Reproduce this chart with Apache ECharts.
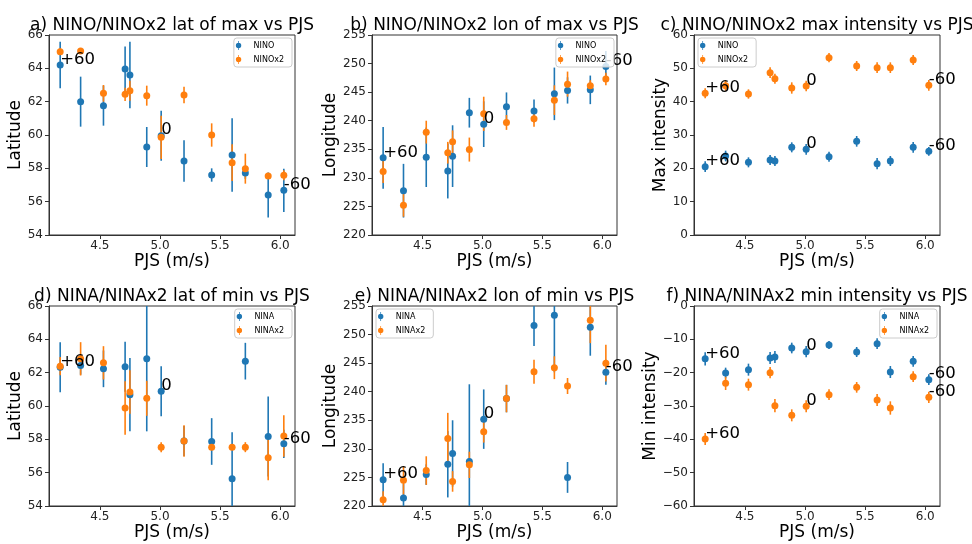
<!DOCTYPE html>
<html><head><meta charset="utf-8">
<script src="https://cdn.jsdelivr.net/npm/echarts@6/dist/echarts.min.js"></script>
<style>html,body{margin:0;padding:0;background:#fff}#c{width:972px;height:544px}</style>
</head><body><div id="c"></div>
<script>
// ---------------- data ----------------
const pjs = [4.17, 4.34, 4.53, 4.71, 4.75, 4.89, 5.01, 5.20, 5.43, 5.60, 5.71, 5.90, 6.03];
const xTicks = [4.5, 5.0, 5.5, 6.0];
const annotIdx = [0, 6, 12];
const annotText = ['+60', '0', '-60'];

// a) lat of max
const ninoLat     = [64.2, 62.0, 61.76, 63.96, 63.6, 59.28, 59.96, 58.44, 57.6, 58.8, 57.72, 56.4, 56.68];
const ninoLatErr  = [1.4, 1.5, 1.2, 1.35, 2.0, 1.2, 1.5, 1.25, 0.4, 2.2, 0.35, 1.35, 1.3];
const nino2Lat    = [65.0, 65.04, 62.5, 62.44, 62.66, 62.36, 59.86, 62.4, 60.0, 58.34, 57.98, 57.54, 57.58];
const nino2LatErr = [0.2, 0.1, 0.5, 0.4, 0.6, 0.6, 1.3, 0.5, 0.7, 1.1, 0.9, 0.15, 0.3];
// b) lon of max
const ninoLon     = [233.5, 227.75, 233.6, 231.2, 233.8, 241.4, 239.4, 242.45, 241.7, 244.7, 245.3, 245.4, 249.5];
const ninoLonErr  = [5.4, 4.7, 5.2, 4.8, 5.4, 2.6, 4.0, 2.5, 2.0, 4.6, 2.3, 2.5, 2.7];
const nino2Lon    = [231.1, 225.2, 238.0, 234.4, 236.3, 234.95, 241.2, 239.7, 240.35, 243.6, 246.4, 246.1, 247.3];
const nino2LonErr = [2.0, 2.0, 2.0, 1.9, 2.0, 2.1, 3.0, 1.3, 1.4, 2.6, 2.2, 1.0, 1.1];
// c) max intensity
const ninoMax     = [20.5, 23.7, 21.8, 22.5, 22.2, 26.3, 25.7, 23.5, 28.1, 21.4, 22.2, 26.3, 25.1];
const ninoMaxErr  = [1.6, 1.6, 1.5, 1.5, 1.5, 1.5, 1.6, 1.5, 1.6, 1.7, 1.5, 1.6, 1.3];
const nino2Max    = [42.5, 44.8, 42.3, 48.7, 46.9, 44.1, 44.7, 53.2, 50.7, 50.2, 50.2, 52.5, 44.9];
const nino2MaxErr = [1.5, 1.5, 1.4, 1.6, 1.5, 1.7, 1.6, 1.4, 1.5, 1.6, 1.6, 1.5, 1.6];
// d) lat of min
const ninaLat     = [62.33, 62.43, 62.23, 62.35, 60.68, 62.83, 60.88, 57.9, 57.87, 55.63, 62.69, 58.17, 57.73];
const ninaLatErr  = [1.5, 0.55, 1.1, 1.5, 2.2, 4.35, 1.5, 0.9, 1.4, 2.8, 1.1, 2.4, 0.85];
const nina2Lat    = [62.39, 62.83, 62.59, 59.88, 60.84, 60.46, 57.53, 57.9, 57.53, 57.53, 57.53, 56.9, 58.2];
const nina2LatErr = [0.55, 1.0, 1.0, 1.6, 1.3, 1.05, 0.3, 0.95, 0.15, 0.1, 0.3, 1.35, 1.25];
// e) lon of min
const ninaLon     = [224.6, 221.4, 225.5, 227.3, 229.2, 227.8, 235.2, 238.8, 251.6, 253.4, 225.0, 251.3, 243.4];
const ninaLonErr  = [2.9, 2.5, 1.8, 5.8, 5.8, 13.5, 5.2, 2.4, 3.6, 10.0, 2.7, 5.0, 2.2];
const nina2Lon    = [221.1, 224.5, 226.2, 231.8, 224.3, 227.2, 233.0, 238.8, 243.5, 244.2, 241.0, 252.5, 245.0];
const nina2LonErr = [1.5, 2.5, 2.5, 4.5, 1.8, 2.3, 1.9, 2.4, 2.1, 2.0, 1.4, 4.0, 3.2];
// f) min intensity
const ninaMin     = [-15.85, -20.1, -19.1, -15.6, -15.3, -12.6, -13.7, -11.7, -13.8, -11.3, -19.8, -16.6, -22.1];
const ninaMinErr  = [2.0, 1.6, 1.8, 1.8, 1.8, 1.6, 1.7, 1.2, 1.5, 1.6, 1.8, 1.6, 1.6];
const nina2Min    = [-39.9, -23.2, -23.6, -20.0, -29.9, -32.8, -30.1, -26.6, -24.4, -28.2, -30.6, -21.2, -27.4];
const nina2MinErr = [1.8, 2.0, 1.8, 1.7, 2.0, 1.8, 1.8, 1.6, 1.6, 1.8, 2.0, 1.6, 1.7];

// ---------------- layout / style ----------------
const FONT = 'DejaVu Sans';
const BLUE = '#1f77b4', ORANGE = '#ff7f0e';
const xr = Math.max(...pjs) - Math.min(...pjs);
const XMIN = Math.min(...pjs) - 0.05 * xr, XMAX = Math.max(...pjs) + 0.05 * xr;
const ERRICON = 'path://M2.6,0H3.4V10H2.6Z M6,5A3,3 0 1 1 0,5A3,3 0 1 1 6,5Z';

const panels = [
  {title:'a) NINO/NINOx2 lat of max vs PJS', yName:'Latitude', ymin:54, ymax:66, yint:2, names:['NINO','NINOx2'],
   s1:ninoLat, e1:ninoLatErr, s2:nino2Lat, e2:nino2LatErr, ann:[true,false],
   grid:{left:49, top:35, width:246, height:200}, leg:'right', nameGap:24},
  {title:'b) NINO/NINOx2 lon of max vs PJS', yName:'Longitude', ymin:220, ymax:255, yint:5, names:['NINO','NINOx2'],
   s1:ninoLon, e1:ninoLonErr, s2:nino2Lon, e2:nino2LonErr, ann:[true,false],
   grid:{left:372, top:35, width:245, height:200}, leg:'right', nameGap:30},
  {title:'c) NINO/NINOx2 max intensity vs PJS', yName:'Max intensity', ymin:0, ymax:60, yint:10, names:['NINO','NINOx2'],
   s1:ninoMax, e1:ninoMaxErr, s2:nino2Max, e2:nino2MaxErr, ann:[true,true],
   grid:{left:694, top:35, width:246, height:200}, leg:'left', nameGap:24},
  {title:'d) NINA/NINAx2 lat of min vs PJS', yName:'Latitude', ymin:54, ymax:66, yint:2, names:['NINA','NINAx2'],
   s1:ninaLat, e1:ninaLatErr, s2:nina2Lat, e2:nina2LatErr, ann:[true,false],
   grid:{left:49, top:306, width:246, height:200}, leg:'right', nameGap:24},
  {title:'e) NINA/NINAx2 lon of min vs PJS', yName:'Longitude', ymin:220, ymax:255, yint:5, names:['NINA','NINAx2'],
   s1:ninaLon, e1:ninaLonErr, s2:nina2Lon, e2:nina2LonErr, ann:[true,false],
   grid:{left:372, top:306, width:245, height:200}, leg:'left', nameGap:30},
  {title:'f) NINA/NINAx2 min intensity vs PJS', yName:'Min intensity', ymin:-60, ymax:0, yint:10, names:['NINA','NINAx2'],
   s1:ninaMin, e1:ninaMinErr, s2:nina2Min, e2:nina2MinErr, ann:[true,true],
   grid:{left:694, top:306, width:246, height:200}, leg:'right', nameGap:35},
];

function errRender(params, api) {
  const x = api.value(0), y = api.value(1), e = api.value(2);
  const p1 = api.coord([x, y + e]), p2 = api.coord([x, y - e]);
  return {type:'line', shape:{x1:p1[0], y1:p1[1], x2:p2[0], y2:p2[1]},
          style:{stroke: api.visual('color'), lineWidth:1.6}};
}
function makeAnnotRender(texts) {
  return function (params, api) {
    const p = api.coord([api.value(0), api.value(1)]);
    return {type:'text', x:p[0], y:p[1] + 3,
      style:{text: texts[params.dataIndex], fill:'#000', fontSize:16.5, fontFamily:FONT,
             align:'left', verticalAlign:'bottom'}};
  };
}

const titles = [], grids = [], xAxes = [], yAxes = [], legends = [], series = [];
panels.forEach((p, i) => {
  const g = p.grid;
  titles.push({text:p.title, left:g.left + g.width / 2, top:g.top - 17.5, textAlign:'center', textVerticalAlign:'top',
    padding:0, textStyle:{fontSize:17, fontWeight:'normal', color:'#000', fontFamily:FONT}});
  grids.push({left:g.left, top:g.top, width:g.width, height:g.height, show:true, borderColor:'#333', borderWidth:1,
    backgroundColor:'transparent'});
  xAxes.push({type:'value', gridIndex:i, min:XMIN, max:XMAX, name:'PJS (m/s)', nameLocation:'middle', nameGap:15,
    nameTextStyle:{fontSize:17, color:'#000', fontFamily:FONT},
    axisLine:{show:true, onZero:false, lineStyle:{color:'#333', width:1}},
    axisTick:{show:true, inside:false, length:4, customValues:xTicks, lineStyle:{color:'#333'}},
    axisLabel:{customValues:xTicks, formatter:v => Number(v).toFixed(1), fontSize:12, color:'#222', margin:5, fontFamily:FONT},
    splitLine:{show:false}});
  yAxes.push({type:'value', gridIndex:i, min:p.ymin, max:p.ymax, interval:p.yint, name:p.yName, nameLocation:'middle',
    nameGap:p.nameGap, nameTextStyle:{fontSize:17, color:'#000', fontFamily:FONT},
    axisLine:{show:true, onZero:false, lineStyle:{color:'#333', width:1}},
    axisTick:{show:true, inside:false, length:4, lineStyle:{color:'#333'}},
    axisLabel:{formatter:v => String(v).replace('-', '\u2212'), fontSize:12, color:'#222', margin:6, fontFamily:FONT},
    splitLine:{show:false}});
  const leg = {data:p.names, orient:'vertical', top:g.top + 3, itemWidth:20, itemHeight:9, itemGap:5, icon:ERRICON,
    padding:[3, 8, 3, 2], backgroundColor:'rgba(255,255,255,0.8)', borderColor:'#cccccc', borderWidth:1,
    borderRadius:3, textStyle:{fontSize:8, color:'#000', fontFamily:FONT}, selectedMode:false, z:10};
  if (p.leg === 'right') leg.right = 972 - (g.left + g.width) + 3; else leg.left = g.left + 4;
  legends.push(leg);

  const sets = [[p.s1, p.e1, BLUE, p.names[0]], [p.s2, p.e2, ORANGE, p.names[1]]];
  sets.forEach(([vals, errs, col, nm]) => {
    series.push({type:'custom', name:nm + ' err', xAxisIndex:i, yAxisIndex:i, renderItem:errRender, clip:true,
      data:pjs.map((x, k) => [x, vals[k], errs[k]]), encode:{x:0, y:1}, itemStyle:{color:col}, silent:true, z:2});
    series.push({type:'scatter', name:nm, xAxisIndex:i, yAxisIndex:i, symbol:'circle', symbolSize:7, clip:true,
      data:pjs.map((x, k) => [x, vals[k]]), itemStyle:{color:col, opacity:1}, silent:true, z:2});
  });
  sets.forEach(([vals], j) => {
    if (!p.ann[j]) return;
    series.push({type:'custom', name:'annot', xAxisIndex:i, yAxisIndex:i, renderItem:makeAnnotRender(annotText),
      clip:false, data:annotIdx.map(k => [pjs[k], vals[k]]), encode:{x:0, y:1}, silent:true, z:3});
  });
});

const chart = echarts.init(document.getElementById('c'), null, {renderer:'canvas'});
chart.setOption({animation:false, backgroundColor:'#fff', textStyle:{fontFamily:FONT},
  title:titles, grid:grids, xAxis:xAxes, yAxis:yAxes, legend:legends, series:series});
</script></body></html>
